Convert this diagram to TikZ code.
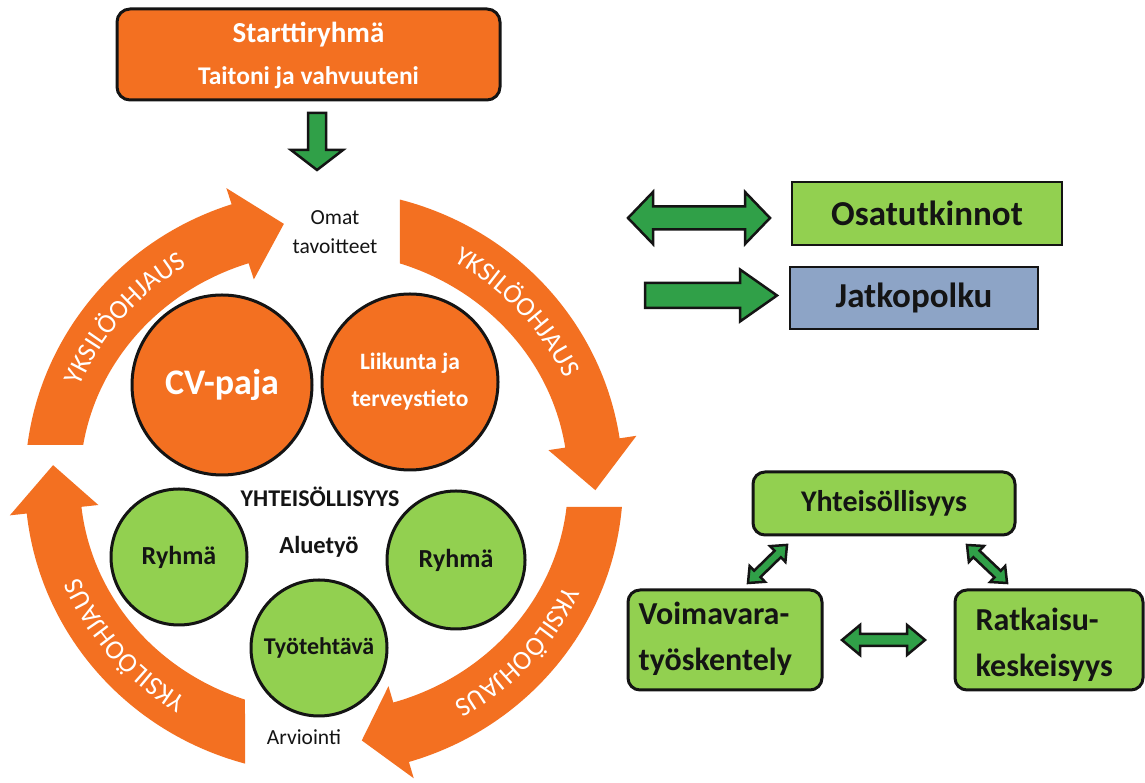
\documentclass[tikz,border=0pt]{standalone}
\usepackage{fontspec}
\setmainfont{Carlito}
\usetikzlibrary{decorations.text}
\definecolor{ringorange}{RGB}{243,112,33}
\definecolor{lightgreen}{RGB}{146,208,80}
\definecolor{arrowgreen}{RGB}{48,160,72}
\definecolor{bluegrey}{RGB}{141,164,198}
\definecolor{ink}{RGB}{20,20,20}
\newcommand{\fs}[1]{\fontsize{#1}{#1}\selectfont}
\newcommand{\ringarrow}[4]{%
  \fill[ringorange] (#1:299pt and 292pt) arc[start angle=#1,end angle=#3,x radius=299pt,y radius=292pt]
    -- (#3:316pt and 309pt) -- (#4:271.5pt and 261pt) -- (#3:227pt and 213pt)
    -- (#3:244pt and 230pt) arc[start angle=#3,end angle=#2,x radius=244pt,y radius=230pt] -- cycle;}
\newcommand{\ringtext}[2]{%
  \path[decorate,decoration={text along path,text align=center,text color=white,
    text={|\fontsize{27}{27}\selectfont|YKSILÖOHJAUS}}]
    (#1:263.5pt and 253pt) arc[start angle=#1,end angle=#2,x radius=263.5pt,y radius=253pt];}
% single block arrow: position, angle, length, shaft half, head half, head length
\newcommand{\blockarrowS}[6]{%
  \draw[garrow,shift={#1},rotate=#2] (0,-#4) -- ({#3-#6},-#4) -- ({#3-#6},-#5) -- (#3,0)
    -- ({#3-#6},#5) -- ({#3-#6},#4) -- (0,#4) -- cycle;}
\newcommand{\blockarrowD}[6]{%
  \draw[garrow,shift={#1},rotate=#2] (0,0) -- (#6,-#5) -- (#6,-#4) -- ({#3-#6},-#4) -- ({#3-#6},-#5)
    -- (#3,0) -- ({#3-#6},#5) -- ({#3-#6},#4) -- (#6,#4) -- (#6,#5) -- cycle;}
\begin{document}
\begin{tikzpicture}[x=1pt,y=1pt,
  garrow/.style={fill=arrowgreen,draw=ink,line width=2.5pt,line join=miter},
  topbox/.style={rectangle,rounded corners=13pt,fill=ringorange,draw=ink,line width=3pt,
    minimum width=383pt,minimum height=91pt,inner sep=0pt},
  wtext/.style={text=white,font=\bfseries,inner sep=0pt},
  btext/.style={text=ink,inner sep=0pt},
  ocirc/.style={circle,fill=ringorange,draw=ink,line width=3pt,text=white,font=\bfseries,align=center,inner sep=0pt},
  gcirc/.style={circle,fill=lightgreen,draw=ink,line width=3pt,text=ink,font=\bfseries,align=center,inner sep=0pt},
  sqbox/.style={rectangle,draw=ink,line width=2.5pt,text=ink,font=\bfseries,inner sep=0pt},
  rbox/.style={rectangle,rounded corners=12pt,fill=lightgreen,draw=ink,line width=3pt,text=ink,font=\bfseries,inner sep=0pt}]
\useasboundingbox (0,0) rectangle (1145,783);
\fill[white] (0,0) rectangle (1145,783);

% top box
\node[topbox] (start) at (308.5,728.5) {};
\node[wtext,anchor=base] (st1) at (308.5,740) {\fs{29}Starttiryhmä};
\node[wtext,anchor=base] (st2) at (308.5,698) {\fs{25.5}Taitoni ja vahvuuteni};
\blockarrowS{(317,670)}{-90}{57}{9}{26}{20}

\node[btext,align=center,font=\fontsize{21.5}{29}\selectfont] (omat) at (335,551) {Omat\\tavoitteet};
\node[btext,font=\fs{21.5}] (arv) at (304,46) {Arviointi};

% ring arrows
\begin{scope}[shift={(324,301)}]
  \ringarrow{172.7}{170.7}{108}{98.5}
  \ringarrow{75.3}{71.9}{8.6}{-1.8}
  \ringarrow{-4.9}{-6.2}{-73.5}{-82}
  \ringarrow{-105.3}{-108.9}{-173.8}{-183.7}
  \ringtext{180}{100}
  \ringtext{82}{2}
  \ringtext{-2}{-82}
  \ringtext{-100}{-180}
\end{scope}

% circles
\node[ocirc,minimum size=180pt,font=\bfseries\fs{36}] (cv) at (222,398) {CV-paja};
\node[ocirc,minimum size=176pt,font=\bfseries\fontsize{23.5}{37}\selectfont] (liik) at (410,401) {Liikunta ja\\terveystieto};
\node[btext,font=\bfseries\fs{24}] (yht) at (320,286) {YHTEISÖLLISYYS};
\node[gcirc,minimum size=136pt,font=\bfseries\fs{26}] (ryl) at (179,226) {Ryhmä};
\node[btext,font=\bfseries\fs{24.5}] (alue) at (319,236) {Aluetyö};
\node[gcirc,minimum size=138pt,font=\bfseries\fs{26}] (ryr) at (456,223) {Ryhmä};
\node[gcirc,minimum size=136pt,font=\bfseries\fs{24}] (tyo) at (319,135) {Työtehtävä};

% right upper
\blockarrowD{(628,565)}{0}{142}{11.5}{26}{25}
\node[sqbox,fill=lightgreen,minimum width=270pt,minimum height=63pt,font=\bfseries\fs{35}] (osa) at (927,569.5) {Osatutkinnot};
\blockarrowS{(645,487.5)}{0}{132}{12.5}{26}{37}
\node[sqbox,fill=bluegrey,minimum width=248pt,minimum height=62pt,font=\bfseries\fs{35}] (jatko) at (914,485) {Jatkopolku};

% right lower
\node[rbox,minimum width=262pt,minimum height=63pt,font=\bfseries\fs{30}] (yhb) at (884,279.5) {Yhteisöllisyys};
\node[rbox,minimum width=194pt,minimum height=100pt] (voima) at (725,143) {};
\node[btext,font=\bfseries\fontsize{32}{46}\selectfont,align=left,anchor=west] (voimat) at ([xshift=12pt,yshift=1.5pt]voima.west) {Voimavara-\\työskentely};
\node[rbox,minimum width=188pt,minimum height=100pt] (ratk) at (1049,143) {};
\node[btext,font=\bfseries\fontsize{32}{46}\selectfont,align=left,anchor=west] (ratkt) at ([xshift=22pt,yshift=-5pt]ratk.west) {Ratkaisu-\\keskeisyys};
\blockarrowD{(748,200)}{44.3}{54.5}{4.5}{11}{13}
\blockarrowD{(967,238)}{-43.5}{55.2}{4.5}{11}{13}
\blockarrowD{(842,143)}{0}{83}{6}{15}{18}
\end{tikzpicture}
\end{document}
